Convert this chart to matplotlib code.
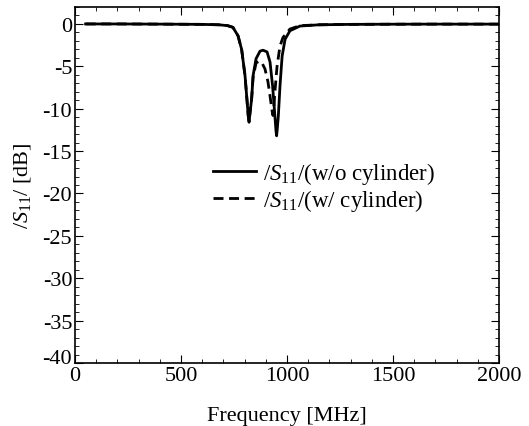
import numpy as np
import matplotlib.pyplot as plt
from matplotlib.ticker import MultipleLocator
from matplotlib.transforms import ScaledTranslation

plt.rcParams['font.family'] = 'Liberation Serif'
plt.rcParams['mathtext.fontset'] = 'custom'
plt.rcParams['mathtext.rm'] = 'Liberation Serif'
plt.rcParams['mathtext.it'] = 'Liberation Serif:italic'
plt.rcParams['axes.unicode_minus'] = False

# |S11| without cylinder (MHz, dB)
f_wo = [50, 200, 400, 600, 680, 720, 745, 769, 786, 802, 811, 817, 821, 825, 833, 840,
        854, 873, 887, 906, 920, 932, 943, 948, 951, 954, 959, 967, 977, 991, 1014,
        1061, 1150, 1300, 1500, 1700, 1900, 2000]
s_wo = [0.0, 0.0, -0.02, -0.05, -0.1, -0.2, -0.4, -1.4, -3.0, -6.1, -8.9, -10.8, -11.6,
        -10.6, -8.9, -6.1, -4.1, -3.2, -3.1, -3.3, -4.5, -7.3, -10.9, -12.6, -13.2,
        -12.4, -10.9, -7.3, -3.8, -1.8, -0.8, -0.25, -0.1, -0.05, -0.03, -0.02, -0.02, -0.02]

# |S11| with cylinder
f_w = [50, 200, 400, 600, 680, 720, 745, 769, 786, 802, 811, 817, 821, 825, 833, 840,
       854, 868, 882, 896, 910, 920, 928, 932, 934, 937, 943, 953, 967, 981, 1014,
       1061, 1150, 1300, 1500, 1700, 1900, 2000]
s_w = [0.0, 0.0, -0.02, -0.05, -0.1, -0.2, -0.4, -1.4, -3.0, -6.1, -8.9, -10.8, -11.5,
       -10.6, -8.9, -6.3, -4.6, -4.4, -4.6, -5.3, -6.8, -8.5, -10.0, -10.6, -10.8,
       -10.2, -8.0, -5.0, -2.6, -1.6, -0.6, -0.2, -0.1, -0.05, -0.03, -0.02, -0.02, -0.02]

fig = plt.figure(figsize=(5.29, 4.27), dpi=100)
ax = fig.add_axes([75/529, 1 - 364/427, 424/529, 356/427])
ax.plot(f_wo, s_wo, color='black', lw=2, label=r'/$\mathit{S}_{11}$/(w/o cylinder)')
ax.plot(f_w, s_w, color='black', lw=2, linestyle=(0, (3.6, 2)), label=r'/$\mathit{S}_{11}$/(w/ cylinder)')

ax.set_xlim(0, 2000)
ax.set_ylim(-40, 2)
ax.xaxis.set_major_locator(MultipleLocator(500))
ax.xaxis.set_minor_locator(MultipleLocator(100))
ax.yaxis.set_major_locator(MultipleLocator(5))
ax.yaxis.set_minor_locator(MultipleLocator(1))
ax.tick_params(which='both', direction='in', top=True, right=True, labelsize=16)
ax.tick_params(which='major', length=6, pad=2)
ax.tick_params(which='minor', length=3)
for s in ax.spines.values():
    s.set_linewidth(1.2)

ax.set_xlabel('Frequency [MHz]', fontsize=16, labelpad=15)
ax.set_ylabel(r'/$\mathit{S}_{11}$/ [dB]', fontsize=16)
ax.yaxis.set_label_coords(-0.1, 0.5)
ax.legend(loc='upper left', bbox_to_anchor=(0.305, 0.595), frameon=False, fontsize=16.5,
          handlelength=1.85, handletextpad=0.3, labelspacing=0.05, borderaxespad=0)

# nudge the -40 label up a little so it sits clear of the x-axis "0"
fig.canvas.draw()
for lab in ax.get_yticklabels():
    if lab.get_text() == '-40':
        lab.set_transform(lab.get_transform() + ScaledTranslation(0, 5/72, fig.dpi_scale_trans))

fig.savefig('out.png', dpi=100)
